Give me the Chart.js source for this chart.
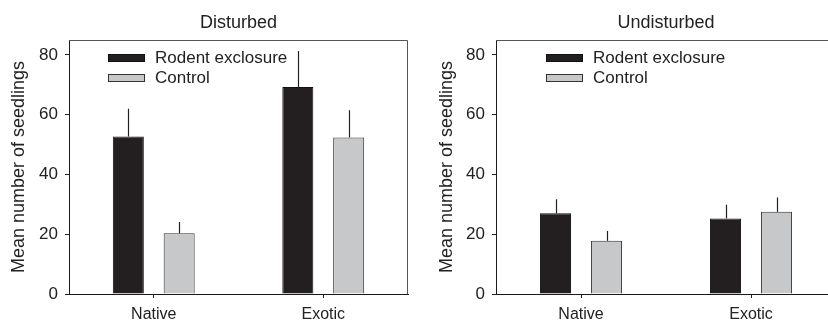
<!DOCTYPE html>
<html>
<head>
<meta charset="utf-8">
<script src="https://cdn.jsdelivr.net/npm/chart.js@4/dist/chart.umd.min.js"></script>
<style>
  html, body { margin: 0; padding: 0; background: #fff; }
  #wrap { position: relative; width: 828px; height: 320px; overflow: hidden; }
  .panel { position: absolute; top: 0; height: 320px; overflow: hidden; }
  #p1 { left: 0; width: 414px; }
  #p2 { left: 414px; width: 414px; }
</style>
</head>
<body>
<div id="wrap">
  <div class="panel" id="p1"><canvas id="chartDisturbed" width="414" height="320"></canvas></div>
  <div class="panel" id="p2"><canvas id="chartUndisturbed" width="440" height="320"></canvas></div>
</div>
<script>
Chart.defaults.font.family = "'Liberation Sans', Arial, sans-serif";
Chart.defaults.color = "#222";

const categories = ["Native", "Exotic"];

const disturbedRodent = [52.7, 69.3];
const disturbedRodentErr = [9.3, 12.0];
const disturbedControl = [20.3, 52.4];
const disturbedControlErr = [3.8, 9.1];

const undisturbedRodent = [27.0, 25.3];
const undisturbedRodentErr = [4.7, 4.6];
const undisturbedControl = [17.8, 27.5];
const undisturbedControlErr = [3.3, 4.8];

const yTicks = [0, 20, 40, 60, 80];

// vertical error line from top of each bar, no caps
const errorBars = {
  id: "errorBars",
  afterDatasetsDraw(chart) {
    const ctx = chart.ctx;
    const y = chart.scales.y;
    ctx.save();
    ctx.strokeStyle = "#231f20";
    ctx.lineWidth = 1.2;
    chart.data.datasets.forEach((ds, i) => {
      const meta = chart.getDatasetMeta(i);
      meta.data.forEach((bar, j) => {
        const x = Math.round(bar.x) + 0.5;
        ctx.beginPath();
        ctx.moveTo(x, y.getPixelForValue(ds.data[j]));
        ctx.lineTo(x, y.getPixelForValue(ds.data[j] + ds.err[j]));
        ctx.stroke();
      });
    });
    ctx.restore();
  },
};

// top and right frame lines
const frame = {
  id: "frame",
  beforeDatasetsDraw(chart) {
    const { ctx, chartArea: a } = chart;
    ctx.save();
    ctx.strokeStyle = "#555";
    ctx.lineWidth = 1;
    ctx.beginPath();
    ctx.moveTo(a.left, a.top + 0.5);
    ctx.lineTo(a.right - 0.5, a.top + 0.5);
    ctx.lineTo(a.right - 0.5, a.bottom);
    ctx.stroke();
    ctx.restore();
  },
};

// legend inside the plot, top left
const insideLegend = {
  id: "insideLegend",
  afterDraw(chart, args, opts) {
    const { ctx, chartArea: a } = chart;
    ctx.save();
    ctx.font = "17px 'Liberation Sans', Arial, sans-serif";
    ctx.textBaseline = "middle";
    chart.data.datasets.forEach((ds, i) => {
      const x = a.left + opts.offsetX;
      const cy = opts.firstY + i * 20;
      ctx.fillStyle = ds.backgroundColor;
      ctx.fillRect(x, cy - 3.5, 37, 7);
      ctx.strokeStyle = ds.borderColor;
      ctx.lineWidth = 1;
      ctx.strokeRect(x + 0.5, cy - 3.5, 36, 7);
      ctx.fillStyle = "#222";
      ctx.fillText(ds.label, x + 47, cy);
    });
    ctx.restore();
  },
};

function makeChart(id, title, rodent, rodentErr, control, controlErr, yWidth, padRight, legendX, titlePad) {
  return new Chart(document.getElementById(id), {
    type: "bar",
    data: {
      labels: categories,
      datasets: [
        {
          label: "Rodent exclosure",
          data: rodent,
          err: rodentErr,
          backgroundColor: "#231f20",
          borderColor: "#111",
          borderWidth: 1,
          categoryPercentage: 0.6,
          barPercentage: 0.61,
        },
        {
          label: "Control",
          data: control,
          err: controlErr,
          backgroundColor: "#c7c8ca",
          borderColor: "#333",
          borderWidth: 1,
          categoryPercentage: 0.6,
          barPercentage: 0.61,
        },
      ],
    },
    options: {
      responsive: false,
      animation: false,
      layout: { padding: { left: 0, right: padRight, top: 0, bottom: 0 } },
      plugins: {
        legend: { display: false },
        tooltip: { enabled: false },
        title: {
          display: true,
          text: title,
          fullSize: false,
          color: "#222",
          font: { size: 18, weight: "normal" },
          padding: { top: 12, bottom: 6.4 },
        },
        insideLegend: { offsetX: legendX, firstY: 58 },
      },
      scales: {
        x: {
          grid: { display: true, drawOnChartArea: false, offset: false, tickLength: 4, color: "#222" },
          border: { color: "#1a1a1a", width: 1 },
          ticks: { padding: 7, color: "#222", font: { size: 16 } },
          afterFit(s) { s.height = 26; },
        },
        y: {
          min: 0,
          max: 85,
          grid: { display: true, drawOnChartArea: false, tickLength: 4, color: "#222" },
          border: { color: "#1a1a1a", width: 1 },
          ticks: { stepSize: 20, padding: 7, color: "#222", font: { size: 17 } },
          title: {
            display: true,
            text: "Mean number of seedlings",
            color: "#222",
            font: { size: 18 },
            padding: { top: titlePad, bottom: 0 },
          },
          afterBuildTicks(s) { s.ticks = yTicks.map((v) => ({ value: v })); },
          afterFit(s) { s.width = yWidth; },
        },
      },
    },
    plugins: [frame, errorBars, insideLegend],
  });
}

makeChart("chartDisturbed", "Disturbed",
  disturbedRodent, disturbedRodentErr, disturbedControl, disturbedControlErr,
  69, 6, 39, 8);
makeChart("chartUndisturbed", "Undisturbed",
  undisturbedRodent, undisturbedRodentErr, undisturbedControl, undisturbedControlErr,
  82, 18, 50, 22);
</script>
</body>
</html>
